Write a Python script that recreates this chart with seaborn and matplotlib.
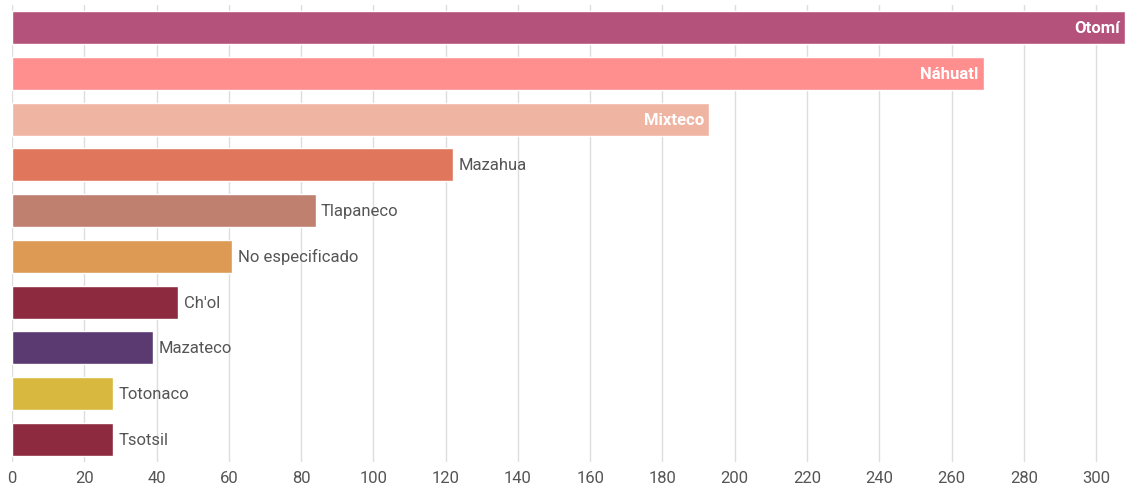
import matplotlib
matplotlib.use("Agg")
import matplotlib.pyplot as plt
import seaborn as sns
import pandas as pd

# Lenguas indígenas
lenguas = ["Otomí", "Náhuatl", "Mixteco", "Mazahua", "Tlapaneco",
           "No especificado", "Ch'ol", "Mazateco", "Totonaco", "Tsotsil"]
valores = [308, 269, 193, 122, 84, 61, 46, 39, 28, 28]
colores = ["#b5527c", "#ff8f8f", "#efb4a2", "#e0775c", "#c0806f",
           "#dd9a55", "#8e2a40", "#5a3a70", "#d8b83e", "#8e2a40"]
dentro = ["Otomí", "Náhuatl", "Mixteco"]  # etiquetas blancas dentro de la barra
ticks = list(range(0, 301, 20))

df = pd.DataFrame({"lengua": lenguas, "valor": valores})

sns.set_style("white")
plt.rcParams["font.family"] = ["Roboto", "DejaVu Sans"]

fig = plt.figure(figsize=(11.25, 4.89), dpi=100)
ax = fig.add_axes([12 / 1125, 1 - 463 / 489, 1 - 12 / 1125, 457 / 489])

sns.barplot(data=df, y="lengua", x="valor", hue="lengua", palette=colores,
            orient="h", width=0.72, legend=False, ax=ax, saturation=1)

for i, (lab, v) in enumerate(zip(lenguas, valores)):
    if lab in dentro:
        ax.text(v - 1.5, i, lab, ha="right", va="center", color="white",
                fontsize=12, fontweight="bold", clip_on=False)
    else:
        ax.text(v + 1.5, i, lab, ha="left", va="center", color="#555555",
                fontsize=12)

ax.set_xlim(0, 308)
ax.set_xticks(ticks)
ax.set_yticks([])
ax.set_xlabel("")
ax.set_ylabel("")
ax.xaxis.grid(True, color="#dddddd", linewidth=1.0)
ax.set_axisbelow(True)
for s in ax.spines.values():
    s.set_visible(False)
ax.tick_params(axis="x", length=0, pad=6, labelsize=12, labelcolor="#555555")

fig.savefig("out.png", dpi=100)
